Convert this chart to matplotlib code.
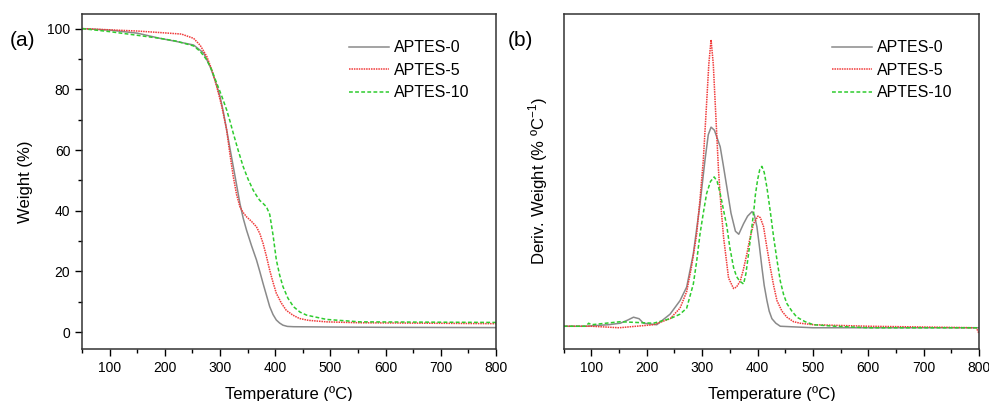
import matplotlib
matplotlib.use("Agg")
import matplotlib.pyplot as plt
from matplotlib.ticker import MultipleLocator

plt.rcParams['font.family'] = ['Liberation Sans', 'DejaVu Sans']
plt.rcParams['mathtext.fontset'] = 'custom'
plt.rcParams['mathtext.rm'] = 'Liberation Sans'

labels = ['APTES-0', 'APTES-5', 'APTES-10']
colors = ['#8a8a8a', '#f03a3a', '#2ecc2e']
styles = ['-', (0, (1, 0.6)), (0, (2.5, 1.5))]

# (a) TGA weight curves
t0 = [50, 100, 150, 191, 220, 252, 270, 282, 291, 300, 306, 312, 318, 324, 330, 336, 342, 348, 357, 366, 372, 378, 384, 390, 396, 402, 408, 414, 422, 433, 500, 600, 800]
w0 = [100, 99.5, 98.5, 96.8, 95.8, 94.6, 92, 87.5, 83, 77.6, 72.5, 66.6, 60.5, 54.5, 48.5, 42.4, 37.5, 33.6, 28.5, 23.8, 20, 16, 12.2, 8.4, 5.8, 4, 3, 2.3, 1.9, 1.8, 1.7, 1.6, 1.5]
t5 = [50, 100, 150, 191, 230, 252, 264, 276, 285, 294, 303, 312, 318, 324, 330, 336, 342, 348, 357, 366, 372, 378, 384, 390, 396, 402, 411, 420, 432, 444, 460, 493, 553, 800]
w5 = [100, 99.6, 99.2, 98.7, 98.2, 96.8, 94.5, 90.8, 86.5, 80.9, 74.5, 66.6, 58.5, 51.2, 45.3, 41.3, 39.4, 38, 36.5, 34.7, 32.5, 29.2, 25, 20.4, 16.4, 12.8, 9.6, 7.2, 5.6, 4.5, 3.9, 3.4, 3.1, 2.8]
t10 = [50, 100, 150, 191, 220, 252, 264, 276, 285, 294, 303, 312, 318, 324, 333, 342, 351, 360, 366, 372, 378, 384, 390, 396, 402, 408, 414, 423, 433, 445, 457, 493, 553, 800]
w10 = [100, 99, 97.8, 96.8, 95.9, 94.3, 92.5, 89.7, 86.3, 82, 77.8, 73.2, 69.5, 65.5, 59.8, 54.5, 50.3, 46.8, 45, 43.4, 42.4, 41.3, 38.8, 32, 23.8, 18.8, 15, 11.2, 8.4, 6.6, 5.6, 4.2, 3.4, 3.2]

# (b) DTG curves
d_t0 = [50, 90, 130, 152, 165, 176, 186, 194, 218, 242, 260, 272, 284, 296, 305, 311, 316, 322, 332.5, 338, 344.6, 352, 360, 366, 374.7, 382, 390, 394, 398.8, 403, 407.8, 412, 416.9, 421, 425.9, 433, 441, 500, 600, 800]
d_y0 = [0.01, 0.01, 0.02, 0.03, 0.05, 0.07, 0.06, 0.03, 0.02, 0.09, 0.18, 0.27, 0.49, 0.82, 1.11, 1.28, 1.33, 1.31, 1.2, 1.08, 0.93, 0.76, 0.64, 0.62, 0.69, 0.74, 0.77, 0.75, 0.67, 0.55, 0.4, 0.28, 0.18, 0.11, 0.06, 0.03, 0.01, 0.0, 0.0, 0.0]
d_t5 = [50, 100, 150, 212, 242, 260, 272, 281, 290, 296, 302, 308, 312, 316, 320, 323.5, 329.5, 334, 338.6, 347.6, 356.6, 362, 368.7, 374, 380.7, 386, 392.8, 400.6, 405, 410.8, 416, 422.9, 429, 435, 444, 453, 465, 477, 501, 600, 795, 800]
d_y5 = [0.01, 0.01, 0.0, 0.02, 0.06, 0.13, 0.24, 0.41, 0.62, 0.85, 1.11, 1.49, 1.75, 1.91, 1.75, 1.49, 1.04, 0.8, 0.6, 0.33, 0.26, 0.27, 0.31, 0.38, 0.49, 0.59, 0.69, 0.74, 0.73, 0.67, 0.55, 0.4, 0.28, 0.18, 0.11, 0.07, 0.04, 0.03, 0.02, 0.01, 0.0, -0.04]
d_t10 = [50, 90, 95, 100, 152, 212, 242, 260, 272, 284, 290, 296, 302, 308, 315, 321.7, 327, 332.5, 338, 344.6, 350, 356.6, 362, 367.5, 374.7, 379, 383.7, 388, 392.8, 396, 400, 404, 407.8, 412, 416.9, 423, 429, 435, 441, 447, 453, 462, 471, 486, 501, 540, 600, 800]
d_y10 = [0.01, 0.01, 0.03, 0.02, 0.04, 0.03, 0.06, 0.09, 0.13, 0.29, 0.44, 0.62, 0.76, 0.89, 0.97, 1.0, 0.97, 0.89, 0.79, 0.67, 0.53, 0.4, 0.34, 0.31, 0.29, 0.36, 0.49, 0.62, 0.76, 0.88, 0.98, 1.05, 1.07, 1.03, 0.93, 0.77, 0.6, 0.45, 0.31, 0.22, 0.16, 0.11, 0.07, 0.04, 0.02, 0.01, 0.0, 0.0]

fig = plt.figure(figsize=(9.89, 4.01), dpi=100)
ax1 = fig.add_axes([0.083, 0.13, 0.4185, 0.835])
ax2 = fig.add_axes([0.570, 0.13, 0.420, 0.835])

for x, y, c, s, l in zip([t0, t5, t10], [w0, w5, w10], colors, styles, labels):
    ax1.plot(x, y, color=c, linestyle=s, lw=1.1, label=l)
for x, y, c, s, l in zip([d_t0, d_t5, d_t10], [d_y0, d_y5, d_y10], colors, styles, labels):
    ax2.plot(x, y, color=c, linestyle=s, lw=1.1, label=l)

for ax in (ax1, ax2):
    ax.set_xlim(50, 800)
    ax.xaxis.set_major_locator(MultipleLocator(100))
    ax.xaxis.set_minor_locator(MultipleLocator(50))
    ax.tick_params(which='both', direction='out', labelsize=10, width=1)
    ax.tick_params(which='major', length=5)
    ax.tick_params(which='minor', length=3)
    ax.set_xlabel('Temperature (ºC)', fontsize=12, labelpad=8)
    for sp in ax.spines.values():
        sp.set_linewidth(1.1)
        sp.set_color('#333333')
    ax.legend(loc='upper right', frameon=False, fontsize=11.5, handlelength=2.5,
              handletextpad=0.3, labelspacing=0.48, bbox_to_anchor=(0.97, 0.965))

ax1.set_ylim(-5.5, 104.8)
ax1.yaxis.set_major_locator(MultipleLocator(20))
ax1.yaxis.set_minor_locator(MultipleLocator(10))
ax1.set_ylabel('Weight (%)', fontsize=12, labelpad=10)

ax2.set_ylim(-0.14, 2.08)
ax2.set_yticks([])
ax2.set_ylabel('Deriv. Weight (% ºC$^{-1}$)', fontsize=12, labelpad=10)

fig.text(0.010, 0.885, '(a)', fontsize=15)
fig.text(0.513, 0.885, '(b)', fontsize=15)

fig.savefig('out.png', dpi=100)
